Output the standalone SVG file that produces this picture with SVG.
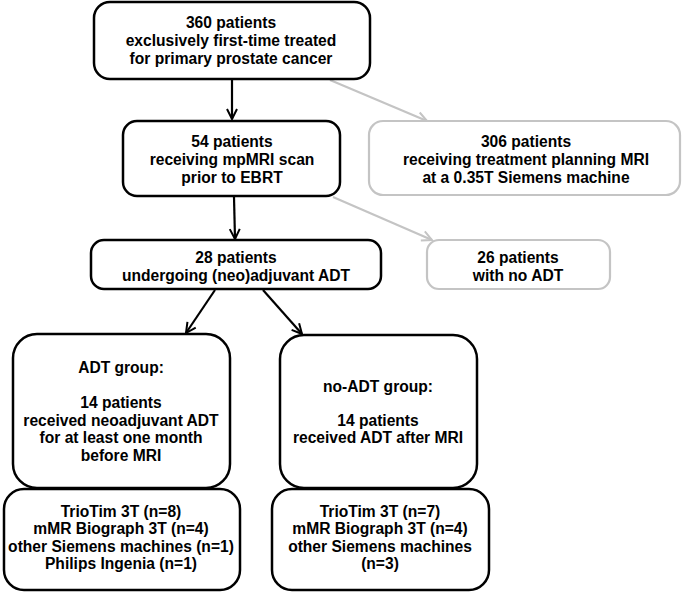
<svg xmlns="http://www.w3.org/2000/svg" width="685" height="592" viewBox="0 0 685 592">
<style>
.box{fill:#fff;stroke:#000;stroke-width:2.5}
.gbox{fill:#fff;stroke:#c4c4c4;stroke-width:2.2}
text{font-family:"Liberation Sans",Arial,sans-serif;font-weight:bold;font-size:15.6px;text-anchor:middle;fill:#000}
.c{stroke:#000;stroke-width:2.2;fill:none}
.g{stroke:#c4c4c4;stroke-width:2.2;fill:none}
</style>
<defs>
<marker id="ab" markerUnits="userSpaceOnUse" markerWidth="14" markerHeight="14" refX="11" refY="6" orient="auto" viewBox="0 0 14 12">
<path d="M1,1 L11,6 L1,11" fill="none" stroke="#000" stroke-width="2"/>
</marker>
<marker id="ag" markerUnits="userSpaceOnUse" markerWidth="14" markerHeight="14" refX="11" refY="6" orient="auto" viewBox="0 0 14 12">
<path d="M1,1 L11,6 L1,11" fill="none" stroke="#c4c4c4" stroke-width="2"/>
</marker>
</defs>
<g id="connectors">
<line class="c" x1="232" y1="80" x2="232" y2="119" marker-end="url(#ab)"/>
<line class="g" x1="330" y1="80" x2="427" y2="121" marker-end="url(#ag)"/>
<line class="c" x1="234" y1="197" x2="235" y2="239" marker-end="url(#ab)"/>
<line class="g" x1="333" y1="197" x2="432" y2="240" marker-end="url(#ag)"/>
<line class="c" x1="215" y1="290" x2="186" y2="333" marker-end="url(#ab)"/>
<line class="c" x1="263" y1="290" x2="302" y2="334" marker-end="url(#ab)"/>
</g>
<g id="n360">
<rect class="box" x="94" y="2" width="276" height="77" rx="16"/>
<text x="231" y="28">360 patients</text>
<text x="231" y="46">exclusively first-time treated</text>
<text x="231" y="64">for primary prostate cancer</text>
</g>
<g id="n54">
<rect class="box" x="123" y="121" width="217" height="75" rx="14"/>
<text x="232" y="147">54 patients</text>
<text x="232" y="165">receiving mpMRI scan</text>
<text x="232" y="183">prior to EBRT</text>
</g>
<g id="n306">
<rect class="gbox" x="369" y="121" width="311" height="74" rx="14"/>
<text x="526" y="147">306 patients</text>
<text x="526" y="165">receiving treatment planning MRI</text>
<text x="526" y="183">at a 0.35T Siemens machine</text>
</g>
<g id="n28">
<rect class="box" x="91" y="240" width="290" height="49" rx="13"/>
<text x="236" y="263">28 patients</text>
<text x="236" y="281">undergoing (neo)adjuvant ADT</text>
</g>
<g id="n26">
<rect class="gbox" x="427" y="240" width="183" height="49" rx="12"/>
<text x="518" y="263">26 patients</text>
<text x="518" y="281">with no ADT</text>
</g>
<g id="adt">
<rect class="box" x="13" y="334" width="217" height="154" rx="24"/>
<text x="121" y="373">ADT group:</text>
<text x="121" y="408">14 patients</text>
<text x="121" y="426">received neoadjuvant ADT</text>
<text x="121" y="443">for at least one month</text>
<text x="121" y="461">before MRI</text>
</g>
<g id="noadt">
<rect class="box" x="280" y="335" width="197" height="153" rx="24"/>
<text x="378" y="392">no-ADT group:</text>
<text x="378" y="426">14 patients</text>
<text x="378" y="443">received ADT after MRI</text>
</g>
<g id="adtmach">
<rect class="box" x="4" y="489" width="236" height="101" rx="20"/>
<text x="121" y="517">TrioTim 3T (n=8)</text>
<text x="121" y="534">mMR Biograph 3T (n=4)</text>
<text x="121" y="552">other Siemens machines (n=1)</text>
<text x="121" y="569">Philips Ingenia (n=1)</text>
</g>
<g id="noadtmach">
<rect class="box" x="272" y="489" width="217" height="101" rx="20"/>
<text x="380" y="517">TrioTim 3T (n=7)</text>
<text x="380" y="534">mMR Biograph 3T (n=4)</text>
<text x="380" y="552">other Siemens machines</text>
<text x="380" y="569">(n=3)</text>
</g>
</svg>
